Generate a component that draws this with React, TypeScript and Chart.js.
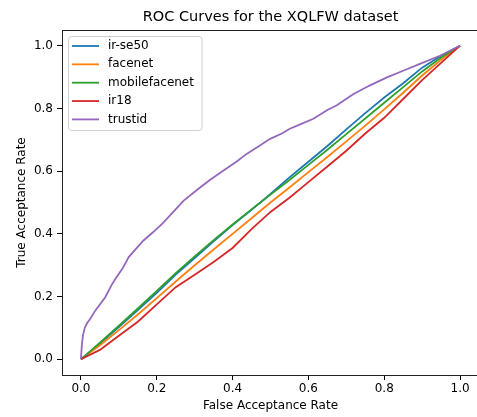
import React, { useEffect, useRef } from 'react';
import { Chart, registerables } from 'chart.js';

Chart.register(...registerables);

const chartTitle = 'ROC Curves for the XQLFW dataset';
const xTitle = 'False Acceptance Rate';
const yTitle = 'True Acceptance Rate';

const seriesLabels = ['ir-se50', 'facenet', 'mobilefacenet', 'ir18', 'trustid'];
const seriesColors = ['#1f77b4', '#ff7f0e', '#2ca02c', '#d62728', '#9467bd'];

const tickValues = [0, 0.2, 0.4, 0.6, 0.8, 1.0];

const fprGrid = [0, 0.05, 0.1, 0.15, 0.2, 0.25, 0.3, 0.35, 0.4, 0.45, 0.5, 0.55, 0.6, 0.65, 0.7, 0.75, 0.8, 0.85, 0.9, 0.95, 1];
const irse50Tpr = [0, 0.05, 0.103, 0.157, 0.212, 0.27, 0.323, 0.376, 0.428, 0.477, 0.527, 0.58, 0.63, 0.68, 0.733, 0.785, 0.835, 0.88, 0.93, 0.968, 1];
const facenetTpr = [0, 0.045, 0.093, 0.143, 0.195, 0.248, 0.3, 0.35, 0.4, 0.45, 0.5, 0.548, 0.597, 0.645, 0.695, 0.745, 0.797, 0.85, 0.905, 0.955, 1];
const mobilefacenetTpr = [0, 0.053, 0.107, 0.162, 0.218, 0.275, 0.328, 0.38, 0.43, 0.478, 0.525, 0.572, 0.62, 0.668, 0.718, 0.768, 0.818, 0.868, 0.918, 0.962, 1];
const ir18Tpr = [0, 0.03, 0.075, 0.12, 0.175, 0.23, 0.27, 0.31, 0.355, 0.415, 0.47, 0.515, 0.565, 0.615, 0.665, 0.72, 0.77, 0.83, 0.89, 0.945, 1];

const trustidFpr = [0, 0.002, 0.005, 0.01, 0.016, 0.025, 0.038, 0.05, 0.064, 0.08, 0.091, 0.11, 0.126, 0.145, 0.165, 0.19, 0.214, 0.24, 0.271, 0.31, 0.34, 0.376, 0.41, 0.437, 0.47, 0.499, 0.53, 0.551, 0.58, 0.613, 0.65, 0.675, 0.718, 0.76, 0.807, 0.85, 0.894, 0.947, 1];
const trustidTpr = [0, 0.04, 0.075, 0.1, 0.115, 0.13, 0.156, 0.175, 0.198, 0.235, 0.257, 0.29, 0.326, 0.352, 0.379, 0.405, 0.432, 0.465, 0.506, 0.544, 0.572, 0.602, 0.63, 0.655, 0.68, 0.703, 0.72, 0.735, 0.75, 0.767, 0.795, 0.81, 0.845, 0.872, 0.899, 0.92, 0.942, 0.968, 1];

const FONT = "'DejaVu Sans', sans-serif";

const seriesX = [fprGrid, fprGrid, fprGrid, fprGrid, trustidFpr];
const seriesY = [irse50Tpr, facenetTpr, mobilefacenetTpr, ir18Tpr, trustidTpr];

const AREA = { left: 62, top: 30, right: 479, bottom: 375 };

const framePlugin = {
  id: 'frameAndLegend',
  afterDraw(chart: any) {
    const { ctx, chartArea } = chart;
    const { left, top, right, bottom } = chartArea;
    ctx.save();
    // spines (top, left, bottom) as filled 1px rects
    const L = Math.round(left);
    const T = Math.round(top);
    const B = Math.round(bottom);
    const R = Math.round(right);
    ctx.fillStyle = '#222';
    ctx.fillRect(L, T, R - L, 1);
    ctx.fillRect(L, T, 1, B - T + 1);
    ctx.fillRect(L, B, R - L, 1);

    const bx = left + 6.5;
    const by = top + 6.5;
    const bw = 133.5;
    const bh = 94;
    const r = 3;
    ctx.beginPath();
    ctx.moveTo(bx + r, by);
    ctx.lineTo(bx + bw - r, by);
    ctx.arcTo(bx + bw, by, bx + bw, by + r, r);
    ctx.lineTo(bx + bw, by + bh - r);
    ctx.arcTo(bx + bw, by + bh, bx + bw - r, by + bh, r);
    ctx.lineTo(bx + r, by + bh);
    ctx.arcTo(bx, by + bh, bx, by + bh - r, r);
    ctx.lineTo(bx, by + r);
    ctx.arcTo(bx, by, bx + r, by, r);
    ctx.closePath();
    ctx.fillStyle = 'rgba(255,255,255,0.8)';
    ctx.fill();
    ctx.strokeStyle = '#d0d0d0';
    ctx.lineWidth = 1;
    ctx.stroke();

    ctx.font = `12px ${FONT}`;
    ctx.textBaseline = 'middle';
    ctx.textAlign = 'left';
    chart.data.datasets.forEach((ds: any, i: number) => {
      const y = top + 16 + i * 18.35;
      ctx.strokeStyle = ds.borderColor;
      ctx.lineWidth = 1.8;
      ctx.beginPath();
      ctx.moveTo(left + 10, y);
      ctx.lineTo(left + 37, y);
      ctx.stroke();
      ctx.fillStyle = '#000';
      ctx.fillText(ds.label, left + 46, y);
    });
    ctx.restore();
  },
};

export default function App() {
  const canvasRef = useRef<HTMLCanvasElement | null>(null);

  useEffect(() => {
    if (!canvasRef.current) return;
    const datasets = seriesLabels.map((label, i) => ({
      label,
      data: seriesX[i].map((x, j) => ({ x, y: seriesY[i][j] })),
      borderColor: seriesColors[i],
      backgroundColor: seriesColors[i],
      borderWidth: 1.8,
      pointRadius: 0,
      tension: 0,
      fill: false,
      order: seriesLabels.length - i,
    }));

    const gridOpts = {
      display: true,
      drawOnChartArea: false,
      drawTicks: true,
      tickLength: 5,
      tickColor: '#000',
      tickWidth: 1,
    };
    const tickFmt = (v: any) => Number(v).toFixed(1);
    const setTicks = (scale: any) => {
      scale.ticks = tickValues.map((v) => ({ value: v }));
    };

    const padding = { left: 0, right: 21, top: 0, bottom: 0 };

    const chart = new Chart(canvasRef.current, {
      type: 'line',
      data: { datasets },
      options: {
        animation: false,
        responsive: false,
        devicePixelRatio: 1,
        layout: { padding },
        plugins: {
          legend: { display: false },
          tooltip: { enabled: false },
          title: {
            display: true,
            text: chartTitle,
            fullSize: false,
            color: '#000',
            font: { family: FONT, size: 14.5, weight: 'normal' },
            padding: { top: 9, bottom: 3.6 },
          },
        },
        scales: {
          x: {
            type: 'linear',
            min: -0.05,
            max: 1.05,
            afterBuildTicks: setTicks,
            afterFit: (scale: any) => {
              scale.height = 42;
            },
            grid: gridOpts,
            border: { display: false },
            ticks: {
              color: '#000',
              font: { family: FONT, size: 12 },
              padding: 2,
              maxRotation: 0,
              callback: tickFmt,
            },
            title: {
              display: true,
              text: xTitle,
              color: '#000',
              font: { family: FONT, size: 12 },
              padding: { top: 0, bottom: 3.5 },
            },
          },
          y: {
            type: 'linear',
            min: -0.05,
            max: 1.05,
            afterBuildTicks: setTicks,
            afterFit: (scale: any) => {
              scale.width = 62;
            },
            grid: gridOpts,
            border: { display: false },
            ticks: {
              color: '#000',
              font: { family: FONT, size: 12 },
              padding: 4,
              callback: tickFmt,
            },
            title: {
              display: true,
              text: yTitle,
              color: '#000',
              font: { family: FONT, size: 12 },
              padding: { top: 15, bottom: 0 },
            },
          },
        },
      },
      plugins: [framePlugin],
    } as any);

    const ca = chart.chartArea;
    const dl = AREA.left - ca.left;
    const dt = AREA.top - ca.top;
    const dr = ca.right - AREA.right;
    const db = ca.bottom - AREA.bottom;
    if (Math.abs(dl) > 0.2 || Math.abs(dt) > 0.2 || Math.abs(dr) > 0.2 || Math.abs(db) > 0.2) {
      const opts: any = chart.options;
      opts.layout.padding = {
        left: padding.left + dl,
        top: padding.top + dt,
        right: padding.right + dr,
        bottom: padding.bottom + db,
      };
      chart.update();
    }

    return () => chart.destroy();
  }, []);

  return (
    <div style={{ position: 'absolute', left: 0, top: 0, width: 477, height: 417, overflow: 'hidden', background: '#fff' }}>
      <canvas ref={canvasRef} width={500} height={417} style={{ width: 500, height: 417, display: 'block' }} />
    </div>
  );
}
